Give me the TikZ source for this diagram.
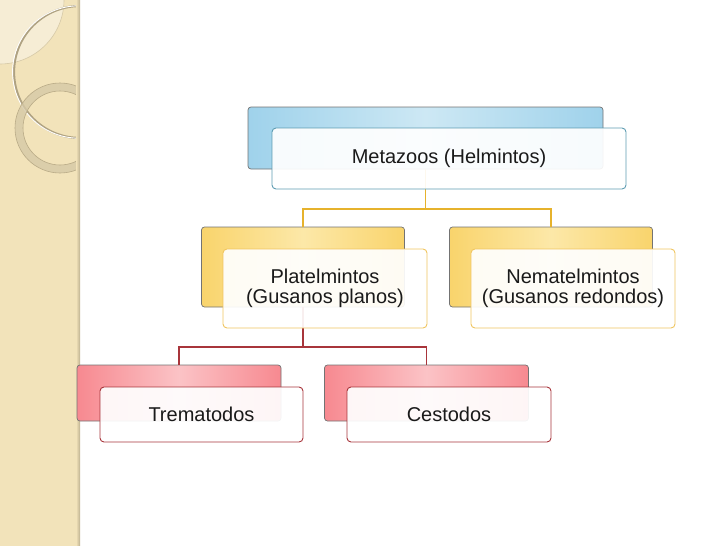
\documentclass[tikz,border=0pt]{standalone}
\usepackage{fontspec}
\setmainfont{Liberation Sans}
\definecolor{strip}{HTML}{F2E3BA}
\definecolor{stripl}{HTML}{F6EDD5}
\definecolor{stripedge}{HTML}{BDB08F}
\definecolor{circc}{HTML}{AFA282}
\definecolor{ringc}{HTML}{D6C9A7}
\definecolor{ringd}{HTML}{B9AB87}
\definecolor{bluee}{HTML}{9FD2EB}
\definecolor{bluem}{HTML}{CDE8F4}
\definecolor{yele}{HTML}{F9D46C}
\definecolor{yelm}{HTML}{FCE8A8}
\definecolor{rede}{HTML}{F78990}
\definecolor{redm}{HTML}{FBC3C6}
\definecolor{bluebd}{HTML}{5E9CB2}
\definecolor{yelbd}{HTML}{F0C560}
\definecolor{redbd}{HTML}{A8353B}
\definecolor{goldln}{HTML}{E6B22C}
\definecolor{redln}{HTML}{A8353B}
\definecolor{txt}{HTML}{1A1A1A}
\begin{document}
\begin{tikzpicture}[x=1pt,y=-1pt]
\tikzset{
 bk/.style={rectangle, rounded corners=3pt, draw=black!55, line width=0.7pt, inner sep=0pt},
 bluebk/.style={bk, left color=bluee, right color=bluee, middle color=bluem},
 yelbk/.style={bk, left color=yele, right color=yele, middle color=yelm},
 redbk/.style={bk, left color=rede, right color=rede, middle color=redm},
 fr/.style={rectangle, rounded corners=4pt, line width=0.9pt, fill=white, fill opacity=0.92,
   text opacity=1, font=\fontsize{20}{20.5}\selectfont, align=center, inner sep=0pt, text=txt},
 bluefr/.style={fr, draw=bluebd},
 yelfr/.style={fr, draw=yelbd},
 redfr/.style={fr, draw=redbd},
 goldconn/.style={draw=goldln, line width=1.8pt},
 redconn/.style={draw=redln, line width=1.8pt},
}
\useasboundingbox (0,0) rectangle (728,546);
% left decorative strip
\fill[strip] (0,0) rectangle (80,546);
\begin{scope}
\clip (0,0) rectangle (78,546);
\fill[stripl] (0,0) circle (64);
\draw[color=ringc, line width=0.6pt] (0,0) circle (64);
\draw[color=circc, line width=2.2pt] (80,72) circle (66);
\draw[color=white, line width=0.9pt] (78.8,72) circle (66.2);
\fill[ringc, fill opacity=0.8, even odd rule] (60,128) circle (45) (60,128) circle (37);
\draw[ringd, line width=0.6pt] (60,128) circle (45);
\draw[ringd, line width=0.6pt] (60,128) circle (37);
\end{scope}
\shade[left color=strip, right color=stripedge] (76,0) rectangle (80,546);

% back boxes
\node[bluebk, minimum width=355pt, minimum height=62pt] (mb) at (425.5,138) {};
\node[yelbk, minimum width=203pt, minimum height=80pt] (pb) at (303,267) {};
\node[yelbk, minimum width=203pt, minimum height=80pt] (nb) at (551,267) {};
\node[redbk, minimum width=204pt, minimum height=56pt] (tb) at (179,393) {};
\node[redbk, minimum width=204pt, minimum height=56pt] (cb) at (426.5,393) {};

% connectors
\coordinate (j1) at (425.5,209);
\coordinate (j2) at (303,347);
\draw[goldconn] (mb.south) -- (j1);
\draw[goldconn] (j1) -| (pb.north);
\draw[goldconn] (j1) -| (nb.north);
\draw[redconn] (pb.south) -- (j2);
\draw[redconn] (j2) -| (tb.north);
\draw[redconn] (j2) -| (cb.north);

% front boxes
\node[bluefr, minimum width=354pt, minimum height=61pt] (mf) at (449,158.5) {Metazoos (Helmintos)};
\node[yelfr, minimum width=204pt, minimum height=79pt] (pf) at (325,288.5) {Platelmintos\\(Gusanos planos)};
\node[yelfr, minimum width=204pt, minimum height=79pt] (nf) at (573,288.5) {Nematelmintos\\(Gusanos redondos)};
\node[redfr, minimum width=203pt, minimum height=55pt] (tf) at (201.5,414.5) {Trematodos};
\node[redfr, minimum width=204pt, minimum height=55pt] (cf) at (449,414.5) {Cestodos};
\end{tikzpicture}
\end{document}
